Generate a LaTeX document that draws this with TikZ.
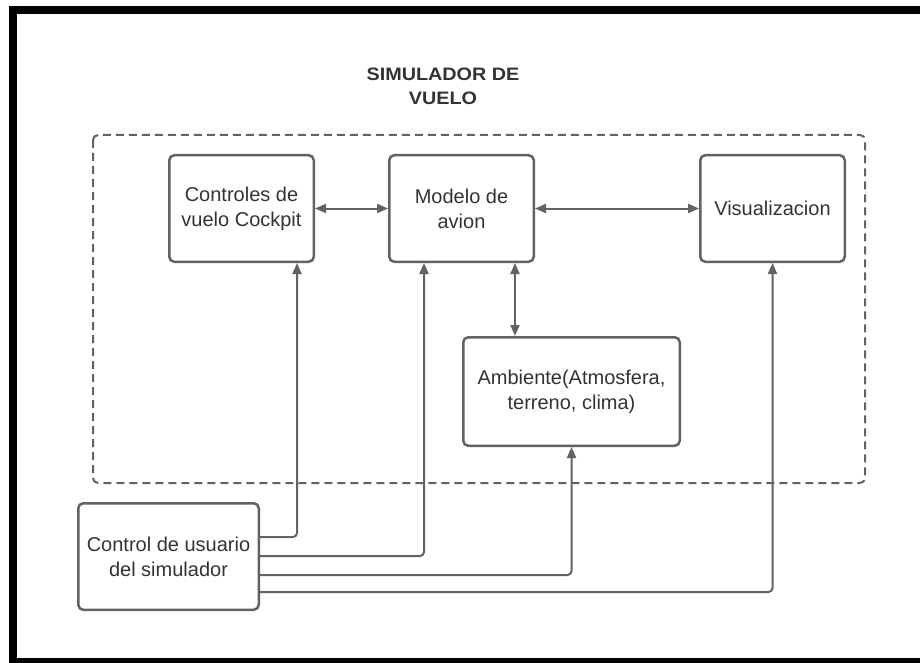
\documentclass[tikz,border=0pt]{standalone}
\usepackage{fontspec}
\setmainfont{Liberation Sans}
\newfontfamily\titlefont[FakeStretch=1.1]{Liberation Sans}
\usetikzlibrary{arrows.meta, positioning}
\definecolor{boxgray}{RGB}{98,98,98}
\definecolor{txtgray}{RGB}{51,51,51}

\begin{document}
\begin{tikzpicture}[x=1pt, y=-1pt,
  cbox/.style={draw=boxgray, line width=2.5pt, rounded corners=5pt, fill=white, minimum width=144.5pt, minimum height=106.5pt, align=center, text=txtgray, font=\fontsize{20}{25}\selectfont, inner sep=0pt},
  link/.style={draw=boxgray, line width=2pt, -{Triangle[length=11pt, width=9pt]}},
  dlink/.style={link, {Triangle[length=11pt, width=9pt]}-{Triangle[length=11pt, width=9pt]}},
  feed/.style={link, rounded corners=4pt}
]
  \useasboundingbox (0,0) rectangle (920,663);
  \draw[line width=8pt, black] (13,10) rectangle (930,661.5);

  \node[font=\titlefont\bfseries\fontsize{18}{24}\selectfont, text=txtgray, align=center] (title) at (443,86.5) {SIMULADOR DE\\VUELO};

  \draw[boxgray, line width=2pt, rounded corners=5pt, dash pattern=on 8pt off 5pt] (93,135) rectangle (865,483);

  \node[cbox] (cockpit) at (241.5,208.5) {Controles de\\vuelo Cockpit};
  \node[cbox] (modelo) at (461.5,208.5) {Modelo de\\avion};
  \node[cbox] (visual) at (772.5,208.5) {Visualizacion};
  \node[cbox, minimum width=216.5pt, minimum height=108.5pt] (ambiente) at (571.5,391.5) {Ambiente(Atmosfera,\\terreno, clima)};
  \node[cbox, minimum width=180.5pt] (usuario) at (168.5,556.5) {Control de usuario\\del simulador};

  \draw[dlink] (cockpit) -- (modelo);
  \draw[dlink] (modelo) -- (visual);
  \draw[dlink] ([xshift=53.5pt]modelo.south) -- ([xshift=53.5pt]modelo.south |- ambiente.north);

  \draw[feed] ([yshift=19.5pt]usuario.east) -| ([xshift=55.5pt]cockpit.south);
  \draw[feed] ([yshift=0.5pt]usuario.east) -| ([xshift=-37.5pt]modelo.south);
  \draw[feed] ([yshift=-18.5pt]usuario.east) -| (ambiente.south);
  \draw[feed] ([yshift=-35.5pt]usuario.east) -| (visual.south);
\end{tikzpicture}
\end{document}
